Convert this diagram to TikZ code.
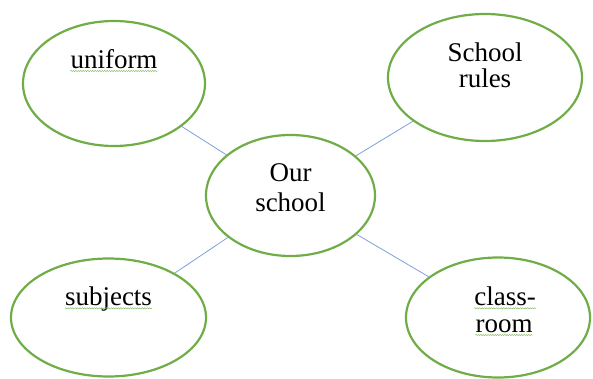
\documentclass[tikz,border=0pt]{standalone}
\usepackage{fontspec}
\setmainfont{Liberation Serif}
\usetikzlibrary{shapes.geometric}
\usetikzlibrary{positioning}
\usetikzlibrary{decorations.pathmorphing}
\definecolor{bubblegreen}{HTML}{70AD47}
\definecolor{linkblue}{HTML}{7F9FD9}
\tikzstyle{bubble} = [ellipse, draw=bubblegreen, line width=2.2pt, inner sep=0pt]
\tikzstyle{words} = [align=center, inner sep=0pt, font=\fontsize{27}{26}\selectfont]
\tikzstyle{link} = [draw=linkblue, line width=0.8pt]
\tikzstyle{squiggle} = [draw=bubblegreen!80, line width=0.5pt, decorate, decoration={snake, amplitude=0.6pt, segment length=2.4pt}]

\begin{document}
\begin{tikzpicture}[on grid]

    \useasboundingbox (-290.5pt,195.5pt) rectangle (302.5pt,-182.5pt);

    % bubbles
    \node (ourschool) [bubble, minimum width=169pt, minimum height=121pt] at (0,0) {};
    \node (uniform) [bubble, minimum width=182pt, minimum height=125pt, above left=112pt and 176.5pt of ourschool] {};
    \node (rules) [bubble, minimum width=194pt, minimum height=127pt, above right=118pt and 194.5pt of ourschool] {};
    \node (subjects) [bubble, minimum width=195pt, minimum height=118pt, below left=122pt and 182pt of ourschool] {};
    \node (classroom) [bubble, minimum width=184pt, minimum height=120pt, below right=122pt and 207.5pt of ourschool] {};

    % texts
    \node (ourschooltext) [words, font=\fontsize{27}{30}\selectfont, text depth=0pt, above=7.6pt of ourschool] {Our\\school};
    \node (uniformtext) [words, above=15.5pt of uniform, anchor=base] {uniform};
    \node (rulestext) [words, text depth=0pt, above=12.7pt of rules] {School\\rules};
    \node (subjectstext) [words, above=12.2pt of subjects, anchor=base] {subjects};
    \node (classtext) [words, above right=12.2pt and 7pt of classroom, anchor=base] {class-};
    \node (roomtext) [words, below right=14.5pt and 6pt of classroom, anchor=base] {room};

    % spelling marks
    \foreach \w in {uniformtext, subjectstext, classtext, roomtext}
        \draw [squiggle] ([yshift=-3pt]\w.base west) -- ([yshift=-3pt]\w.base east);

    % links
    \draw [link] (ourschool) -- (uniform);
    \draw [link] (ourschool) -- (rules);
    \draw [link] (ourschool) -- (subjects);
    \draw [link] (ourschool) -- (classroom);

\end{tikzpicture}
\end{document}
